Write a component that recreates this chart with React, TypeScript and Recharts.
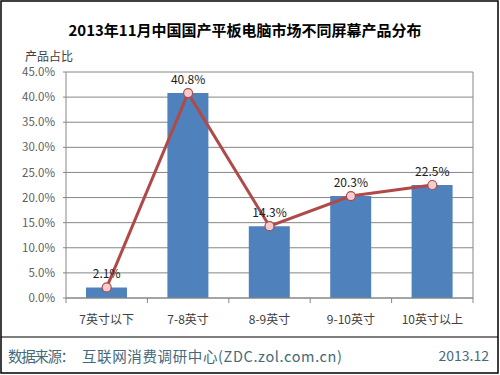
import React from "react";
import {
  ComposedChart,
  Bar,
  Line,
  XAxis,
  YAxis,
  CartesianGrid,
  LabelList,
} from "recharts";

const categories = ["7英寸以下", "7-8英寸", "8-9英寸", "9-10英寸", "10英寸以上"];
const shares = [2.1, 40.8, 14.3, 20.3, 22.5];
const yTicks = [0, 5, 10, 15, 20, 25, 30, 35, 40, 45];

const data = categories.map((name, i) => ({ name, share: shares[i] }));

const W = 500;
const H = 375;
const PLOT_LEFT = 66;
const PLOT_RIGHT = 473;
const PLOT_TOP = 72;
const PLOT_BOTTOM = 298;
const BAND = (PLOT_RIGHT - PLOT_LEFT) / categories.length;
const FONT = "'Noto Sans CJK SC', 'DejaVu Sans', sans-serif";

const XTick = (props: any) => {
  const { x, payload, index } = props;
  return (
    <g>
      <line x1={x - BAND / 2} x2={x - BAND / 2} y1={PLOT_BOTTOM} y2={PLOT_BOTTOM + 5} stroke="#868686" />
      {index === categories.length - 1 && (
        <line x1={x + BAND / 2} x2={x + BAND / 2} y1={PLOT_BOTTOM} y2={PLOT_BOTTOM + 5} stroke="#868686" />
      )}
      <text x={x} y={PLOT_BOTTOM + 20} textAnchor="middle" dominantBaseline="central" fontSize={12} fill="#404040" fontFamily={FONT}>
        {payload.value}
      </text>
    </g>
  );
};

export default function App() {
  return (
    <div style={{ position: "absolute", left: 0, top: 0, width: W, height: H, background: "#fff" }}>
      <ComposedChart
        width={W}
        height={H}
        data={data}
        margin={{ top: PLOT_TOP, right: W - PLOT_RIGHT, bottom: 0, left: 0 }}
      >
        <CartesianGrid vertical={false} stroke="#868686" strokeWidth={1} />
        <XAxis
          dataKey="name"
          height={H - PLOT_BOTTOM}
          axisLine={{ stroke: "#868686" }}
          tickLine={false}
          tick={<XTick />}
          interval={0}
        />
        <YAxis
          width={PLOT_LEFT}
          domain={[0, 45]}
          ticks={yTicks}
          interval={0}
          axisLine={{ stroke: "#868686" }}
          tickLine={{ stroke: "#868686" }}
          tickSize={3}
          tickMargin={8}
          tickFormatter={(v: number) => `${v.toFixed(1)}%`}
          tick={{ fontSize: 11.5, fill: "#606060", fontFamily: FONT }}
        />
        <Bar dataKey="share" fill="#4F81BD" barSize={41} isAnimationActive={false} />
        <Line
          dataKey="share"
          stroke="#B04A48"
          strokeWidth={3}
          dot={{ r: 4.5, fill: "#F4CDD0", stroke: "#B04A48", strokeWidth: 1.2 }}
          isAnimationActive={false}
        >
          <LabelList
            dataKey="share"
            position="top"
            offset={9}
            formatter={(v: number) => `${v}%`}
            style={{ fontSize: 12, fill: "#202020", fontFamily: FONT }}
          />
        </Line>
      </ComposedChart>
      <svg width={W} height={H} style={{ position: "absolute", left: 0, top: 0, pointerEvents: "none" }}>
        <rect x={1} y={1} width={W - 3} height={H - 3} fill="none" stroke="#000" strokeWidth={1.5} />
        <line x1={PLOT_RIGHT} x2={PLOT_RIGHT} y1={PLOT_TOP} y2={PLOT_BOTTOM} stroke="#868686" />
        <text x={245} y={29} textAnchor="middle" dominantBaseline="central" fontSize={15} fontWeight="bold" fill="#000" fontFamily={FONT}>
          2013年11月中国国产平板电脑市场不同屏幕产品分布
        </text>
        <text x={25} y={55} dominantBaseline="central" fontSize={12} fill="#404040" fontFamily={FONT}>
          产品占比
        </text>
        <line x1={1} x2={W - 2} y1={337} y2={337} stroke="#000" strokeWidth={1.2} />
        <text x={8} y={355} dominantBaseline="central" fontSize={14.5} fill="#46697A" fontFamily={FONT} textLength={67} lengthAdjust="spacing">
          数据来源：
        </text>
        <text x={82} y={355} dominantBaseline="central" fontSize={14.5} fill="#46697A" fontFamily={FONT} textLength={260} lengthAdjust="spacing">
          互联网消费调研中心(ZDC.zol.com.cn)
        </text>
        <text x={489} y={355} textAnchor="end" dominantBaseline="central" fontSize={14} fill="#46697A" fontFamily={FONT}>
          2013.12
        </text>
      </svg>
    </div>
  );
}
